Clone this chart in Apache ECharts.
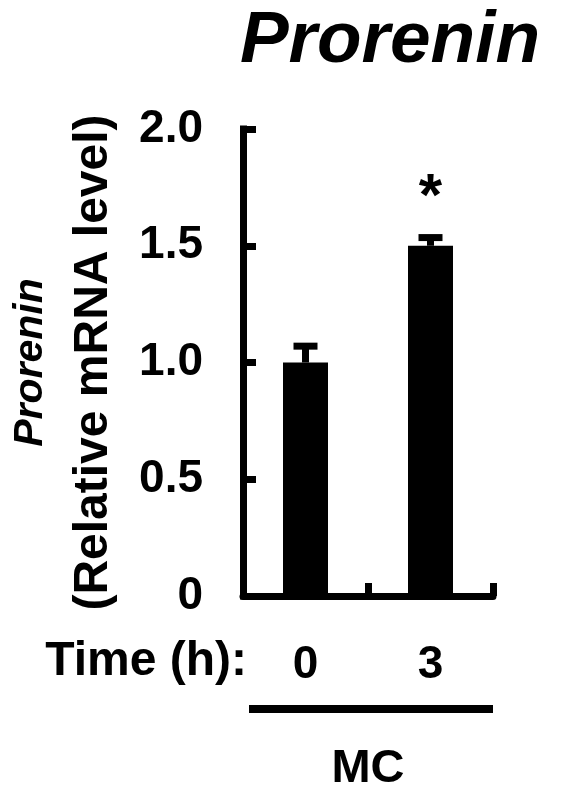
<!DOCTYPE html>
<html><head><meta charset="utf-8">
<script src="https://cdn.jsdelivr.net/npm/echarts@6/dist/echarts.min.js"></script>
<style>html,body{margin:0;padding:0;background:#fff}#c{width:563px;height:803px}</style>
</head><body><div id="c"></div>
<script>
const categories = ['0', '3'];
const values = [1.0, 1.5];
const errors = [0.07, 0.035];
const marks = ['', '*'];
const yMin = 0, yMax = 2, yStep = 0.5;
const titleText = 'Prorenin';
const yName1 = 'Prorenin';
const yName2 = '(Relative mRNA level)';
const xPrefix = 'Time (h):';
const groupLabel = 'MC';

const FONT = '"Liberation Sans", Arial, Helvetica, sans-serif';
const BLACK = '#000';
const chart = echarts.init(document.getElementById('c'), null, {renderer: 'canvas'});

const option = {
  animation: false,
  backgroundColor: '#fff',
  title: {
    text: titleText, left: 390, textAlign: 'center', top: 5, padding: 0,
    textStyle: {fontFamily: FONT, fontSize: 73, fontWeight: 'bold', fontStyle: 'italic', color: BLACK}
  },
  grid: {left: 243, right: 70, top: 129, bottom: 207, containLabel: false},
  xAxis: {
    type: 'category', data: categories, boundaryGap: true,
    axisLine: {show: true, lineStyle: {color: BLACK, width: 7}},
    axisTick: {show: true, inside: true, length: 13, lineStyle: {color: BLACK, width: 7}},
    axisLabel: {margin: 46, fontFamily: FONT, fontSize: 46, fontWeight: 'bold', color: BLACK},
    splitLine: {show: false}
  },
  yAxis: {
    type: 'value', min: yMin, max: yMax, interval: yStep,
    axisLine: {show: true, lineStyle: {color: BLACK, width: 7, cap: 'square'}},
    axisTick: {show: true, inside: true, length: 13, lineStyle: {color: BLACK, width: 7}},
    splitLine: {show: false},
    axisLabel: {
      margin: 40, fontFamily: FONT, fontSize: 46, fontWeight: 'bold', color: BLACK,
      formatter: v => v === 0 ? '0' : v.toFixed(1)
    },
    name: '{a|' + yName1 + '}\n{b|' + yName2 + '}',
    nameLocation: 'middle', nameRotate: 90, nameGap: 118,
    nameTextStyle: {
      rich: {
        a: {fontFamily: FONT, fontSize: 41, fontWeight: 'bold', fontStyle: 'italic', color: BLACK, lineHeight: 63},
        b: {fontFamily: FONT, fontSize: 48, fontWeight: 'bold', color: BLACK, lineHeight: 63}
      }
    }
  },
  series: [
    {
      type: 'bar', data: values, barWidth: 45,
      itemStyle: {color: BLACK}, z: 2
    },
    {
      type: 'custom', z: 3,
      data: categories.map((c, i) => [i, values[i], errors[i]]),
      renderItem: function (params, api) {
        const i = params.dataIndex;
        const x = api.value(0), v = api.value(1), e = api.value(2);
        const p0 = api.coord([x, v]);
        const p1 = api.coord([x, v + e]);
        const children = [
          {type: 'line', shape: {x1: p0[0], y1: p0[1], x2: p1[0], y2: p1[1]}, style: {stroke: BLACK, lineWidth: 7}},
          {type: 'line', shape: {x1: p1[0] - 12, y1: p1[1], x2: p1[0] + 12, y2: p1[1]}, style: {stroke: BLACK, lineWidth: 7}}
        ];
        if (marks[i]) {
          children.push({type: 'text', style: {
            text: marks[i], x: p1[0], y: p1[1] - 39, textAlign: 'center', textVerticalAlign: 'middle',
            font: 'bold 60px ' + FONT, fill: BLACK
          }});
        }
        return {type: 'group', children: children};
      }
    }
  ]
};
chart.setOption(option);

const c0 = chart.convertToPixel({xAxisIndex: 0}, categories[0]);
const c1 = chart.convertToPixel({xAxisIndex: 0}, categories[categories.length - 1]);
const band = categories.length > 1 ? (c1 - c0) / (categories.length - 1) : 250;
const y0 = chart.convertToPixel({yAxisIndex: 0}, 0);
const leftEdge = c0 - band / 2;
const rightEdge = c1 + band / 2;
chart.setOption({
  graphic: [
    {type: 'text', style: {text: xPrefix, x: leftEdge + 4, y: y0 + 66, textAlign: 'right', textVerticalAlign: 'middle',
      font: 'bold 48px ' + FONT, fill: BLACK}},
    {type: 'line', shape: {x1: leftEdge + 6, y1: y0 + 113, x2: rightEdge, y2: y0 + 113}, style: {stroke: BLACK, lineWidth: 8}},
    {type: 'text', style: {text: groupLabel, x: (c0 + c1) / 2, y: y0 + 173, textAlign: 'center', textVerticalAlign: 'middle',
      font: 'bold 47px ' + FONT, fill: BLACK}}
  ]
});
</script>
</body></html>
